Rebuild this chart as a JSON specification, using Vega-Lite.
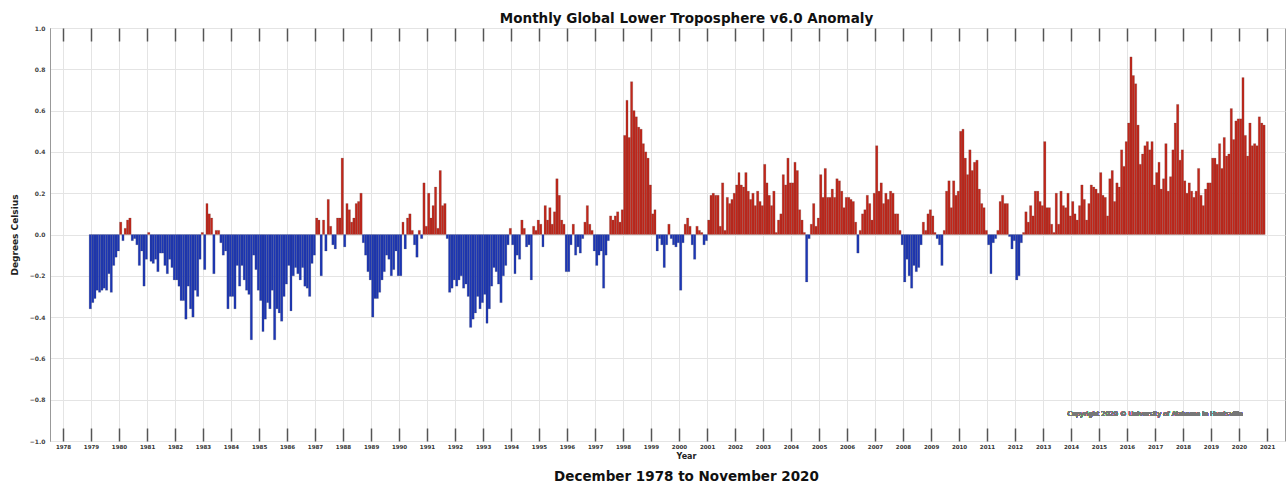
{
"$schema": "https://vega.github.io/schema/vega-lite/v6.json",
"width": 1235,
"height": 413,
"autosize": {"type": "none"},
"padding": {"left": 50, "top": 28, "right": 2, "bottom": 45},
"background": "white",
"config": {"font": "DejaVu Sans", "view": {"stroke": "#999", "strokeWidth": 1}},
"title": {"text": "December 1978 to November 2020", "orient": "bottom", "fontSize": 13.5, "fontWeight": "bold", "font": "DejaVu Sans", "color": "#111", "offset": 9, "dx": 19},
"data": {"format": {"parse": {"date": "utc:'%Y-%m'"}}, "values": [
{"date":"1978-12","anomaly":-0.36},
{"date":"1979-01","anomaly":-0.33},{"date":"1979-02","anomaly":-0.31},{"date":"1979-03","anomaly":-0.27},{"date":"1979-04","anomaly":-0.28},{"date":"1979-05","anomaly":-0.27},{"date":"1979-06","anomaly":-0.26},{"date":"1979-07","anomaly":-0.27},{"date":"1979-08","anomaly":-0.19},{"date":"1979-09","anomaly":-0.28},{"date":"1979-10","anomaly":-0.15},{"date":"1979-11","anomaly":-0.11},{"date":"1979-12","anomaly":-0.08},
{"date":"1980-01","anomaly":0.06},{"date":"1980-02","anomaly":-0.03},{"date":"1980-03","anomaly":0.03},{"date":"1980-04","anomaly":0.07},{"date":"1980-05","anomaly":0.08},{"date":"1980-06","anomaly":-0.03},{"date":"1980-07","anomaly":-0.02},{"date":"1980-08","anomaly":-0.05},{"date":"1980-09","anomaly":-0.15},{"date":"1980-10","anomaly":-0.08},{"date":"1980-11","anomaly":-0.25},{"date":"1980-12","anomaly":-0.12},
{"date":"1981-01","anomaly":0.01},{"date":"1981-02","anomaly":-0.13},{"date":"1981-03","anomaly":-0.14},{"date":"1981-04","anomaly":-0.12},{"date":"1981-05","anomaly":-0.18},{"date":"1981-06","anomaly":-0.09},{"date":"1981-07","anomaly":-0.09},{"date":"1981-08","anomaly":-0.15},{"date":"1981-09","anomaly":-0.19},{"date":"1981-10","anomaly":-0.12},{"date":"1981-11","anomaly":-0.16},{"date":"1981-12","anomaly":-0.22},
{"date":"1982-01","anomaly":-0.22},{"date":"1982-02","anomaly":-0.25},{"date":"1982-03","anomaly":-0.32},{"date":"1982-04","anomaly":-0.32},{"date":"1982-05","anomaly":-0.41},{"date":"1982-06","anomaly":-0.25},{"date":"1982-07","anomaly":-0.36},{"date":"1982-08","anomaly":-0.40},{"date":"1982-09","anomaly":-0.27},{"date":"1982-10","anomaly":-0.30},{"date":"1982-11","anomaly":-0.12},{"date":"1982-12","anomaly":0.01},
{"date":"1983-01","anomaly":-0.17},{"date":"1983-02","anomaly":0.15},{"date":"1983-03","anomaly":0.10},{"date":"1983-04","anomaly":0.08},{"date":"1983-05","anomaly":-0.19},{"date":"1983-06","anomaly":0.02},{"date":"1983-07","anomaly":0.02},{"date":"1983-08","anomaly":-0.04},{"date":"1983-09","anomaly":-0.10},{"date":"1983-10","anomaly":-0.08},{"date":"1983-11","anomaly":-0.36},{"date":"1983-12","anomaly":-0.30},
{"date":"1984-01","anomaly":-0.30},{"date":"1984-02","anomaly":-0.36},{"date":"1984-03","anomaly":-0.15},{"date":"1984-04","anomaly":-0.25},{"date":"1984-05","anomaly":-0.15},{"date":"1984-06","anomaly":-0.22},{"date":"1984-07","anomaly":-0.27},{"date":"1984-08","anomaly":-0.29},{"date":"1984-09","anomaly":-0.51},{"date":"1984-10","anomaly":-0.10},{"date":"1984-11","anomaly":-0.17},{"date":"1984-12","anomaly":-0.27},
{"date":"1985-01","anomaly":-0.32},{"date":"1985-02","anomaly":-0.47},{"date":"1985-03","anomaly":-0.41},{"date":"1985-04","anomaly":-0.33},{"date":"1985-05","anomaly":-0.36},{"date":"1985-06","anomaly":-0.27},{"date":"1985-07","anomaly":-0.51},{"date":"1985-08","anomaly":-0.36},{"date":"1985-09","anomaly":-0.38},{"date":"1985-10","anomaly":-0.42},{"date":"1985-11","anomaly":-0.30},{"date":"1985-12","anomaly":-0.24},
{"date":"1986-01","anomaly":-0.15},{"date":"1986-02","anomaly":-0.37},{"date":"1986-03","anomaly":-0.20},{"date":"1986-04","anomaly":-0.16},{"date":"1986-05","anomaly":-0.19},{"date":"1986-06","anomaly":-0.22},{"date":"1986-07","anomaly":-0.16},{"date":"1986-08","anomaly":-0.25},{"date":"1986-09","anomaly":-0.26},{"date":"1986-10","anomaly":-0.30},{"date":"1986-11","anomaly":-0.14},{"date":"1986-12","anomaly":-0.10},
{"date":"1987-01","anomaly":0.08},{"date":"1987-02","anomaly":0.07},{"date":"1987-03","anomaly":-0.20},{"date":"1987-04","anomaly":0.07},{"date":"1987-05","anomaly":-0.08},{"date":"1987-06","anomaly":0.17},{"date":"1987-07","anomaly":0.04},{"date":"1987-08","anomaly":-0.05},{"date":"1987-09","anomaly":-0.07},{"date":"1987-10","anomaly":0.08},{"date":"1987-11","anomaly":0.08},{"date":"1987-12","anomaly":0.37},
{"date":"1988-01","anomaly":-0.06},{"date":"1988-02","anomaly":0.15},{"date":"1988-03","anomaly":0.12},{"date":"1988-04","anomaly":0.06},{"date":"1988-05","anomaly":0.08},{"date":"1988-06","anomaly":0.15},{"date":"1988-07","anomaly":0.16},{"date":"1988-08","anomaly":0.20},{"date":"1988-09","anomaly":-0.04},{"date":"1988-10","anomaly":-0.10},{"date":"1988-11","anomaly":-0.18},{"date":"1988-12","anomaly":-0.22},
{"date":"1989-01","anomaly":-0.40},{"date":"1989-02","anomaly":-0.31},{"date":"1989-03","anomaly":-0.31},{"date":"1989-04","anomaly":-0.28},{"date":"1989-05","anomaly":-0.22},{"date":"1989-06","anomaly":-0.18},{"date":"1989-07","anomaly":-0.10},{"date":"1989-08","anomaly":-0.12},{"date":"1989-09","anomaly":-0.20},{"date":"1989-10","anomaly":-0.17},{"date":"1989-11","anomaly":-0.08},{"date":"1989-12","anomaly":-0.20},
{"date":"1990-01","anomaly":-0.20},{"date":"1990-02","anomaly":0.06},{"date":"1990-03","anomaly":-0.07},{"date":"1990-04","anomaly":0.08},{"date":"1990-05","anomaly":0.10},{"date":"1990-06","anomaly":0.02},{"date":"1990-07","anomaly":-0.05},{"date":"1990-08","anomaly":-0.11},{"date":"1990-09","anomaly":0.02},{"date":"1990-10","anomaly":-0.02},{"date":"1990-11","anomaly":0.25},{"date":"1990-12","anomaly":0.04},
{"date":"1991-01","anomaly":0.20},{"date":"1991-02","anomaly":0.08},{"date":"1991-03","anomaly":0.14},{"date":"1991-04","anomaly":0.23},{"date":"1991-05","anomaly":0.03},{"date":"1991-06","anomaly":0.31},{"date":"1991-07","anomaly":0.14},{"date":"1991-08","anomaly":0.15},{"date":"1991-09","anomaly":-0.02},{"date":"1991-10","anomaly":-0.28},{"date":"1991-11","anomaly":-0.26},{"date":"1991-12","anomaly":-0.22},
{"date":"1992-01","anomaly":-0.25},{"date":"1992-02","anomaly":-0.22},{"date":"1992-03","anomaly":-0.20},{"date":"1992-04","anomaly":-0.26},{"date":"1992-05","anomaly":-0.24},{"date":"1992-06","anomaly":-0.30},{"date":"1992-07","anomaly":-0.45},{"date":"1992-08","anomaly":-0.41},{"date":"1992-09","anomaly":-0.38},{"date":"1992-10","anomaly":-0.30},{"date":"1992-11","anomaly":-0.36},{"date":"1992-12","anomaly":-0.33},
{"date":"1993-01","anomaly":-0.29},{"date":"1993-02","anomaly":-0.43},{"date":"1993-03","anomaly":-0.36},{"date":"1993-04","anomaly":-0.25},{"date":"1993-05","anomaly":-0.16},{"date":"1993-06","anomaly":-0.18},{"date":"1993-07","anomaly":-0.24},{"date":"1993-08","anomaly":-0.33},{"date":"1993-09","anomaly":-0.20},{"date":"1993-10","anomaly":-0.15},{"date":"1993-11","anomaly":-0.05},{"date":"1993-12","anomaly":0.03},
{"date":"1994-01","anomaly":-0.05},{"date":"1994-02","anomaly":-0.19},{"date":"1994-03","anomaly":-0.10},{"date":"1994-04","anomaly":-0.12},{"date":"1994-05","anomaly":0.07},{"date":"1994-06","anomaly":0.03},{"date":"1994-07","anomaly":-0.06},{"date":"1994-08","anomaly":-0.05},{"date":"1994-09","anomaly":-0.22},{"date":"1994-10","anomaly":0.04},{"date":"1994-11","anomaly":0.02},{"date":"1994-12","anomaly":0.07},
{"date":"1995-01","anomaly":0.05},{"date":"1995-02","anomaly":-0.06},{"date":"1995-03","anomaly":0.14},{"date":"1995-04","anomaly":0.07},{"date":"1995-05","anomaly":0.13},{"date":"1995-06","anomaly":0.05},{"date":"1995-07","anomaly":0.11},{"date":"1995-08","anomaly":0.27},{"date":"1995-09","anomaly":0.19},{"date":"1995-10","anomaly":0.07},{"date":"1995-11","anomaly":0.05},{"date":"1995-12","anomaly":-0.18},
{"date":"1996-01","anomaly":-0.18},{"date":"1996-02","anomaly":-0.05},{"date":"1996-03","anomaly":0.05},{"date":"1996-04","anomaly":-0.10},{"date":"1996-05","anomaly":-0.06},{"date":"1996-06","anomaly":-0.09},{"date":"1996-07","anomaly":-0.02},{"date":"1996-08","anomaly":0.06},{"date":"1996-09","anomaly":0.14},{"date":"1996-10","anomaly":0.05},{"date":"1996-11","anomaly":0.02},{"date":"1996-12","anomaly":-0.08},
{"date":"1997-01","anomaly":-0.15},{"date":"1997-02","anomaly":-0.10},{"date":"1997-03","anomaly":-0.08},{"date":"1997-04","anomaly":-0.26},{"date":"1997-05","anomaly":-0.10},{"date":"1997-06","anomaly":-0.03},{"date":"1997-07","anomaly":0.09},{"date":"1997-08","anomaly":0.07},{"date":"1997-09","anomaly":0.09},{"date":"1997-10","anomaly":0.11},{"date":"1997-11","anomaly":0.06},{"date":"1997-12","anomaly":0.12},
{"date":"1998-01","anomaly":0.48},{"date":"1998-02","anomaly":0.65},{"date":"1998-03","anomaly":0.47},{"date":"1998-04","anomaly":0.74},{"date":"1998-05","anomaly":0.60},{"date":"1998-06","anomaly":0.57},{"date":"1998-07","anomaly":0.52},{"date":"1998-08","anomaly":0.51},{"date":"1998-09","anomaly":0.44},{"date":"1998-10","anomaly":0.40},{"date":"1998-11","anomaly":0.37},{"date":"1998-12","anomaly":0.24},
{"date":"1999-01","anomaly":0.10},{"date":"1999-02","anomaly":0.12},{"date":"1999-03","anomaly":-0.08},{"date":"1999-04","anomaly":-0.02},{"date":"1999-05","anomaly":-0.05},{"date":"1999-06","anomaly":-0.16},{"date":"1999-07","anomaly":-0.05},{"date":"1999-08","anomaly":0.05},{"date":"1999-09","anomaly":-0.02},{"date":"1999-10","anomaly":-0.05},{"date":"1999-11","anomaly":-0.06},{"date":"1999-12","anomaly":-0.04},
{"date":"2000-01","anomaly":-0.27},{"date":"2000-02","anomaly":-0.04},{"date":"2000-03","anomaly":0.05},{"date":"2000-04","anomaly":0.08},{"date":"2000-05","anomaly":0.04},{"date":"2000-06","anomaly":-0.05},{"date":"2000-07","anomaly":-0.12},{"date":"2000-08","anomaly":0.04},{"date":"2000-09","anomaly":0.02},{"date":"2000-10","anomaly":0.01},{"date":"2000-11","anomaly":-0.05},{"date":"2000-12","anomaly":-0.03},
{"date":"2001-01","anomaly":0.07},{"date":"2001-02","anomaly":0.19},{"date":"2001-03","anomaly":0.20},{"date":"2001-04","anomaly":0.19},{"date":"2001-05","anomaly":0.19},{"date":"2001-06","anomaly":0.04},{"date":"2001-07","anomaly":0.25},{"date":"2001-08","anomaly":0.02},{"date":"2001-09","anomaly":0.18},{"date":"2001-10","anomaly":0.15},{"date":"2001-11","anomaly":0.17},{"date":"2001-12","anomaly":0.20},
{"date":"2002-01","anomaly":0.24},{"date":"2002-02","anomaly":0.30},{"date":"2002-03","anomaly":0.24},{"date":"2002-04","anomaly":0.23},{"date":"2002-05","anomaly":0.30},{"date":"2002-06","anomaly":0.21},{"date":"2002-07","anomaly":0.17},{"date":"2002-08","anomaly":0.20},{"date":"2002-09","anomaly":0.14},{"date":"2002-10","anomaly":0.21},{"date":"2002-11","anomaly":0.16},{"date":"2002-12","anomaly":0.14},
{"date":"2003-01","anomaly":0.34},{"date":"2003-02","anomaly":0.25},{"date":"2003-03","anomaly":0.19},{"date":"2003-04","anomaly":0.14},{"date":"2003-05","anomaly":0.21},{"date":"2003-06","anomaly":0.01},{"date":"2003-07","anomaly":0.07},{"date":"2003-08","anomaly":0.10},{"date":"2003-09","anomaly":0.29},{"date":"2003-10","anomaly":0.24},{"date":"2003-11","anomaly":0.37},{"date":"2003-12","anomaly":0.25},
{"date":"2004-01","anomaly":0.25},{"date":"2004-02","anomaly":0.35},{"date":"2004-03","anomaly":0.31},{"date":"2004-04","anomaly":0.12},{"date":"2004-05","anomaly":0.07},{"date":"2004-06","anomaly":0.01},{"date":"2004-07","anomaly":-0.23},{"date":"2004-08","anomaly":-0.02},{"date":"2004-09","anomaly":0.05},{"date":"2004-10","anomaly":0.15},{"date":"2004-11","anomaly":0.04},{"date":"2004-12","anomaly":0.08},
{"date":"2005-01","anomaly":0.29},{"date":"2005-02","anomaly":0.18},{"date":"2005-03","anomaly":0.32},{"date":"2005-04","anomaly":0.18},{"date":"2005-05","anomaly":0.18},{"date":"2005-06","anomaly":0.22},{"date":"2005-07","anomaly":0.18},{"date":"2005-08","anomaly":0.27},{"date":"2005-09","anomaly":0.26},{"date":"2005-10","anomaly":0.21},{"date":"2005-11","anomaly":0.13},{"date":"2005-12","anomaly":0.18},
{"date":"2006-01","anomaly":0.18},{"date":"2006-02","anomaly":0.17},{"date":"2006-03","anomaly":0.16},{"date":"2006-04","anomaly":0.06},{"date":"2006-05","anomaly":-0.09},{"date":"2006-06","anomaly":0.02},{"date":"2006-07","anomaly":0.10},{"date":"2006-08","anomaly":0.12},{"date":"2006-09","anomaly":0.19},{"date":"2006-10","anomaly":0.15},{"date":"2006-11","anomaly":0.07},{"date":"2006-12","anomaly":0.20},
{"date":"2007-01","anomaly":0.43},{"date":"2007-02","anomaly":0.21},{"date":"2007-03","anomaly":0.25},{"date":"2007-04","anomaly":0.15},{"date":"2007-05","anomaly":0.20},{"date":"2007-06","anomaly":0.17},{"date":"2007-07","anomaly":0.21},{"date":"2007-08","anomaly":0.20},{"date":"2007-09","anomaly":0.10},{"date":"2007-10","anomaly":0.10},{"date":"2007-11","anomaly":0.02},{"date":"2007-12","anomaly":-0.05},
{"date":"2008-01","anomaly":-0.23},{"date":"2008-02","anomaly":-0.12},{"date":"2008-03","anomaly":-0.20},{"date":"2008-04","anomaly":-0.26},{"date":"2008-05","anomaly":-0.15},{"date":"2008-06","anomaly":-0.18},{"date":"2008-07","anomaly":-0.16},{"date":"2008-08","anomaly":-0.05},{"date":"2008-09","anomaly":0.06},{"date":"2008-10","anomaly":0.02},{"date":"2008-11","anomaly":0.10},{"date":"2008-12","anomaly":0.12},
{"date":"2009-01","anomaly":0.09},{"date":"2009-02","anomaly":0.01},{"date":"2009-03","anomaly":-0.02},{"date":"2009-04","anomaly":-0.05},{"date":"2009-05","anomaly":-0.15},{"date":"2009-06","anomaly":0.02},{"date":"2009-07","anomaly":0.21},{"date":"2009-08","anomaly":0.26},{"date":"2009-09","anomaly":0.13},{"date":"2009-10","anomaly":0.26},{"date":"2009-11","anomaly":0.19},{"date":"2009-12","anomaly":0.21},
{"date":"2010-01","anomaly":0.50},{"date":"2010-02","anomaly":0.51},{"date":"2010-03","anomaly":0.37},{"date":"2010-04","anomaly":0.29},{"date":"2010-05","anomaly":0.41},{"date":"2010-06","anomaly":0.31},{"date":"2010-07","anomaly":0.35},{"date":"2010-08","anomaly":0.36},{"date":"2010-09","anomaly":0.22},{"date":"2010-10","anomaly":0.15},{"date":"2010-11","anomaly":0.13},{"date":"2010-12","anomaly":0.02},
{"date":"2011-01","anomaly":-0.05},{"date":"2011-02","anomaly":-0.19},{"date":"2011-03","anomaly":-0.04},{"date":"2011-04","anomaly":-0.02},{"date":"2011-05","anomaly":0.02},{"date":"2011-06","anomaly":0.16},{"date":"2011-07","anomaly":0.19},{"date":"2011-08","anomaly":0.15},{"date":"2011-09","anomaly":0.15},{"date":"2011-10","anomaly":-0.01},{"date":"2011-11","anomaly":-0.07},{"date":"2011-12","anomaly":-0.03},
{"date":"2012-01","anomaly":-0.22},{"date":"2012-02","anomaly":-0.20},{"date":"2012-03","anomaly":-0.04},{"date":"2012-04","anomaly":0.01},{"date":"2012-05","anomaly":0.11},{"date":"2012-06","anomaly":0.06},{"date":"2012-07","anomaly":0.14},{"date":"2012-08","anomaly":0.09},{"date":"2012-09","anomaly":0.21},{"date":"2012-10","anomaly":0.21},{"date":"2012-11","anomaly":0.16},{"date":"2012-12","anomaly":0.14},
{"date":"2013-01","anomaly":0.45},{"date":"2013-02","anomaly":0.13},{"date":"2013-03","anomaly":0.13},{"date":"2013-04","anomaly":0.05},{"date":"2013-05","anomaly":0.01},{"date":"2013-06","anomaly":0.20},{"date":"2013-07","anomaly":0.05},{"date":"2013-08","anomaly":0.21},{"date":"2013-09","anomaly":0.14},{"date":"2013-10","anomaly":0.13},{"date":"2013-11","anomaly":0.20},{"date":"2013-12","anomaly":0.09},
{"date":"2014-01","anomaly":0.16},{"date":"2014-02","anomaly":0.10},{"date":"2014-03","anomaly":0.07},{"date":"2014-04","anomaly":0.14},{"date":"2014-05","anomaly":0.24},{"date":"2014-06","anomaly":0.17},{"date":"2014-07","anomaly":0.07},{"date":"2014-08","anomaly":0.15},{"date":"2014-09","anomaly":0.24},{"date":"2014-10","anomaly":0.23},{"date":"2014-11","anomaly":0.22},{"date":"2014-12","anomaly":0.20},
{"date":"2015-01","anomaly":0.30},{"date":"2015-02","anomaly":0.19},{"date":"2015-03","anomaly":0.18},{"date":"2015-04","anomaly":0.09},{"date":"2015-05","anomaly":0.27},{"date":"2015-06","anomaly":0.31},{"date":"2015-07","anomaly":0.16},{"date":"2015-08","anomaly":0.25},{"date":"2015-09","anomaly":0.23},{"date":"2015-10","anomaly":0.41},{"date":"2015-11","anomaly":0.33},{"date":"2015-12","anomaly":0.45},
{"date":"2016-01","anomaly":0.54},{"date":"2016-02","anomaly":0.86},{"date":"2016-03","anomaly":0.77},{"date":"2016-04","anomaly":0.73},{"date":"2016-05","anomaly":0.53},{"date":"2016-06","anomaly":0.34},{"date":"2016-07","anomaly":0.39},{"date":"2016-08","anomaly":0.43},{"date":"2016-09","anomaly":0.45},{"date":"2016-10","anomaly":0.41},{"date":"2016-11","anomaly":0.45},{"date":"2016-12","anomaly":0.24},
{"date":"2017-01","anomaly":0.30},{"date":"2017-02","anomaly":0.35},{"date":"2017-03","anomaly":0.22},{"date":"2017-04","anomaly":0.27},{"date":"2017-05","anomaly":0.44},{"date":"2017-06","anomaly":0.21},{"date":"2017-07","anomaly":0.28},{"date":"2017-08","anomaly":0.41},{"date":"2017-09","anomaly":0.54},{"date":"2017-10","anomaly":0.63},{"date":"2017-11","anomaly":0.36},{"date":"2017-12","anomaly":0.41},
{"date":"2018-01","anomaly":0.26},{"date":"2018-02","anomaly":0.20},{"date":"2018-03","anomaly":0.25},{"date":"2018-04","anomaly":0.21},{"date":"2018-05","anomaly":0.18},{"date":"2018-06","anomaly":0.21},{"date":"2018-07","anomaly":0.32},{"date":"2018-08","anomaly":0.19},{"date":"2018-09","anomaly":0.14},{"date":"2018-10","anomaly":0.22},{"date":"2018-11","anomaly":0.25},{"date":"2018-12","anomaly":0.25},
{"date":"2019-01","anomaly":0.37},{"date":"2019-02","anomaly":0.37},{"date":"2019-03","anomaly":0.34},{"date":"2019-04","anomaly":0.44},{"date":"2019-05","anomaly":0.32},{"date":"2019-06","anomaly":0.47},{"date":"2019-07","anomaly":0.38},{"date":"2019-08","anomaly":0.39},{"date":"2019-09","anomaly":0.61},{"date":"2019-10","anomaly":0.46},{"date":"2019-11","anomaly":0.55},{"date":"2019-12","anomaly":0.56},
{"date":"2020-01","anomaly":0.56},{"date":"2020-02","anomaly":0.76},{"date":"2020-03","anomaly":0.48},{"date":"2020-04","anomaly":0.38},{"date":"2020-05","anomaly":0.54},{"date":"2020-06","anomaly":0.43},{"date":"2020-07","anomaly":0.44},{"date":"2020-08","anomaly":0.43},{"date":"2020-09","anomaly":0.57},{"date":"2020-10","anomaly":0.54},{"date":"2020-11","anomaly":0.53}
]},
"resolve": {"axis": {"x": "independent"}},
"layer": [
{"mark": {"type": "bar", "binSpacing": 0, "stroke": "#4a4a4a", "strokeWidth": 0.4, "strokeOpacity": 0.45},
 "encoding": {
  "x": {"field": "date", "type": "temporal", "timeUnit": "utcyearmonth",
        "scale": {"type": "utc", "domain": [{"year": 1977, "month": 7, "date": 15, "utc": true}, {"year": 2021, "month": 8, "date": 23, "utc": true}]},
        "axis": {"orient": "bottom", "offset": -13, "format": "%Y", "tickCount": {"interval": "year", "step": 1}, "labelFontSize": 5.5, "labelColor": "#333", "labelFontWeight": "bold", "labelPadding": 3, "labelOverlap": false, "labelFlush": false,
                 "ticks": true, "tickSize": 13, "tickWidth": 1.5, "tickColor": "#555", "grid": false, "domain": false,
                 "title": "Year", "titleFontSize": 8, "titleFontWeight": "bold", "titleColor": "#222", "titlePadding": 3, "titleX": 636}},
  "y": {"field": "anomaly", "type": "quantitative", "scale": {"domain": [-1, 1], "nice": false, "zero": true},
        "axis": {"values": [-1, -0.8, -0.6, -0.4, -0.2, 0, 0.2, 0.4, 0.6, 0.8, 1], "format": ".1f", "labelFontSize": 6, "labelFontWeight": "bold", "labelColor": "#444", "labelPadding": 5, "ticks": false,
                 "grid": true, "gridColor": "#e4e4e4", "domainColor": "#999", "title": "Degrees Celsius", "titleFontSize": 9, "titleFontWeight": "bold", "titleColor": "#222", "titlePadding": 10}},
  "color": {"condition": {"test": "datum.anomaly >= 0", "value": "#c1261a"}, "value": "#1c36b5"}
 }},
{"mark": {"type": "bar", "opacity": 0},
 "encoding": {
  "x": {"field": "date", "type": "temporal", "timeUnit": "utcyearmonth",
        "axis": {"orient": "top", "labels": false, "tickCount": {"interval": "year", "step": 1}, "tickSize": -13, "tickWidth": 1.5, "tickColor": "#555", "domain": false, "grid": true, "gridColor": "#e4e4e4", "gridWidth": 1,
                 "title": "Monthly Global Lower Troposphere v6.0 Anomaly", "titleFontSize": 13.5, "titleFontWeight": "bold", "titleColor": "#111", "titlePadding": 2, "titleX": 636}},
  "y": {"field": "anomaly", "type": "quantitative"}
 }},
{"mark": {"type": "text", "fontSize": 6.5, "fontWeight": "normal", "color": "#777"},
 "encoding": {
  "x": {"datum": {"year": 2017, "month": 1, "date": 1, "utc": true}, "type": "temporal", "axis": null},
  "y": {"datum": -0.87, "type": "quantitative"},
  "text": {"value": "Copyright 2020 © University of Alabama in Huntsville"}
 }}
]
}
